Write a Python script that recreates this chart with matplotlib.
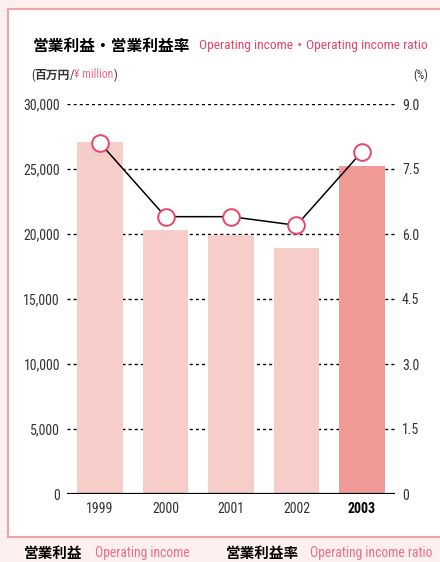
import matplotlib
matplotlib.use('Agg')
import matplotlib.pyplot as plt
from matplotlib.patches import Rectangle
from matplotlib import font_manager

years = ['1999', '2000', '2001', '2002', '2003']
income = [27100, 20300, 19900, 18900, 25200]      # 百万円
ratio = [8.1, 6.4, 6.4, 6.2, 7.9]                 # %
left_ticks = [0, 5000, 10000, 15000, 20000, 25000, 30000]
right_ticks = ['0', '1.5', '3.0', '4.5', '6.0', '7.5', '9.0']

# a condensed face if one happens to be there, otherwise the narrowest common one
names = {f.name for f in font_manager.fontManager.ttflist}
narrow = next((n for n in ['Liberation Sans Narrow', 'Roboto Condensed', 'Open Sans Condensed',
                           'DejaVu Sans Condensed', 'Roboto', 'Liberation Sans'] if n in names),
              'DejaVu Sans')
FAM = [narrow, 'Noto Sans CJK JP']
JP = ['Noto Sans CJK JP', narrow]
plt.rcParams['font.family'] = FAM

W, H = 440, 562
PINK_BG = '#fdf0ef'
BORDER = '#f2a3a3'
BAR = '#f6cdc8'
BAR_HI = '#f09a97'
RED = '#e8456a'
LIGHT_RED = '#ee6d88'
GREY = '#333333'

fig = plt.figure(figsize=(W / 100, H / 100), dpi=100)
fig.patch.set_facecolor(PINK_BG)
renderer = fig.canvas.get_renderer()

def px(x, y):
    return x / W, 1 - y / H

def text_run(x, y, pieces, **kw):
    # lay text pieces one after another, measuring each in pixels
    for s, opts in pieces:
        opts = dict(opts)
        x += opts.pop('gap', 0)
        t = fig.text(*px(x, y), s, va='center', ha='left', **{**kw, **opts})
        x += t.get_window_extent(renderer).width
    return x

# white panel with pink border
x0, y0 = px(8, 537)
x1, y1 = px(446, 9)
fig.patches.append(Rectangle((x0, y0), x1 - x0, y1 - y0, transform=fig.transFigure,
                             facecolor='white', edgecolor=BORDER, linewidth=1.5, zorder=-5))

ax = fig.add_axes([67 / W, 1 - 494 / H, (395 - 67) / W, (494 - 104) / H])
ax.set_zorder(2)
ax.set_facecolor('none')
ax.set_xlim(-0.504, 4.504)
ax.set_ylim(0, 30000)
for s in ax.spines.values():
    s.set_visible(False)

for v in left_ticks[1:]:
    ax.axhline(v, color='black', lw=1.0, ls=(0, (2.2, 2.2)), zorder=1)
ax.axhline(0, color='black', lw=1.6, zorder=4)

colors = [BAR] * 4 + [BAR_HI]
ax.bar(range(len(years)), income, width=0.70, color=colors, zorder=2)

ax.set_yticks(left_ticks)
ax.set_yticklabels([f'{v:,}' for v in left_ticks], fontsize=10, color=GREY)
ax.tick_params(axis='y', length=0, pad=5)
ax.set_xticks(range(len(years)))
ax.set_xticklabels(years, fontsize=10, color=GREY)
ax.get_xticklabels()[-1].set_fontweight('bold')
ax.get_xticklabels()[-1].set_color('black')
ax.tick_params(axis='x', length=0, pad=6)

ax2 = ax.twinx()
ax2.set_zorder(3)
ax2.set_ylim(0, 9.0)
for s in ax2.spines.values():
    s.set_visible(False)
ax2.set_yticks([0, 1.5, 3.0, 4.5, 6.0, 7.5, 9.0])
ax2.set_yticklabels(right_ticks, fontsize=10, color=GREY)
ax2.tick_params(axis='y', length=0, pad=5)
ax2.plot(range(len(years)), ratio, color='black', lw=1.1, marker='o', ms=12,
         mfc='white', mec=RED, mew=1.4, zorder=5)

# titles
fig.text(*px(33, 46), '営業利益・営業利益率', fontsize=11.3, fontweight='semibold',
         family=JP, va='center', ha='left')
text_run(199, 46, [('Operating income', {}),
                   ('・', {'family': JP}),
                   ('Operating income ratio', {})],
         fontsize=9.7, color=RED, family=FAM)
text_run(31, 75, [('(', {'color': GREY}),
                  ('百万円', {'color': GREY, 'family': JP, 'fontweight': 'semibold'}),
                  ('/', {'color': GREY}),
                  ('¥ million', {'color': LIGHT_RED}),
                  (')', {'color': GREY})],
         fontsize=8.5, family=FAM)
fig.text(*px(428, 75), '(%)', fontsize=8.5, family=FAM, va='center', ha='right', color=GREY)

# bottom legend captions (cut off by the page edge in the original)
fig.text(*px(24, 553), '営業利益', fontsize=10.5, fontweight='semibold', family=JP,
         va='center', ha='left')
fig.text(*px(95, 553), 'Operating income', fontsize=9.8, color=LIGHT_RED, va='center', ha='left')
fig.text(*px(226, 553), '営業利益率', fontsize=10.5, fontweight='semibold', family=JP,
         va='center', ha='left')
fig.text(*px(310, 553), 'Operating income ratio', fontsize=9.8, color=LIGHT_RED,
         va='center', ha='left')

fig.savefig('out.png', dpi=100, facecolor=fig.get_facecolor())
